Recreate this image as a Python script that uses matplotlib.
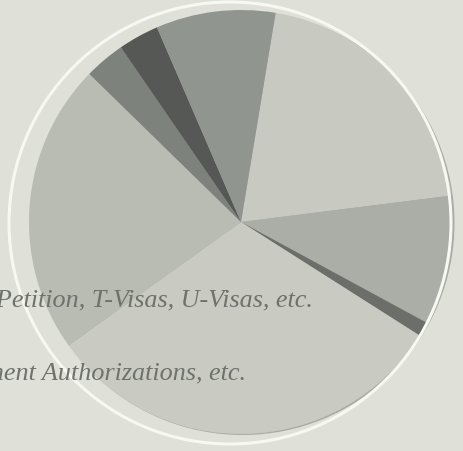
# pie of case types, labels cut off at the left edge
import matplotlib.pyplot as plt
from matplotlib.patches import Circle

shares = [20.4, 9.9, 1.1, 31.1, 22.2, 3.1, 3.1, 9.1]
colors = ['#c8cac1', '#abaea7', '#6b6e69', '#c9cbc2',
          '#b8bcb3', '#7e827c', '#555854', '#919590']
labels = ['VAWA Self-Petition, T-Visas, U-Visas, etc.',
          'Employment Authorizations, etc.']

W, H = 463, 452
fig = plt.figure(figsize=(W / 100, H / 100), dpi=100)
fig.patch.set_facecolor('#dfe1d8')
ax = fig.add_axes([0, 0, 1, 1])

# faint shadow behind the pie
ax.add_patch(Circle((242.5, H - 224), 212, facecolor='#a9aca4', edgecolor='none', zorder=0))

ax.pie(shares, colors=colors, startangle=80.6, counterclock=False,
       center=(241, H - 223), radius=212, frame=True,
       wedgeprops=dict(linewidth=0, antialiased=True))
ax.set_xlim(0, W)
ax.set_ylim(0, H)
ax.set_aspect('equal')
ax.axis('off')

# white ring, off-centre
ax.add_patch(Circle((230, H - 224), 221, facecolor='none', edgecolor='#f7f8f2',
                    linewidth=2.2, zorder=3))

ax.text(313, H - 307, labels[0], ha='right', va='baseline', fontsize=18.8,
        style='italic', family='Liberation Serif', color='#6e716c', zorder=4)
ax.text(246, H - 380, labels[1], ha='right', va='baseline', fontsize=18.8,
        style='italic', family='Liberation Serif', color='#6e716c', zorder=4)

fig.savefig('out.png', dpi=100, facecolor=fig.get_facecolor())
